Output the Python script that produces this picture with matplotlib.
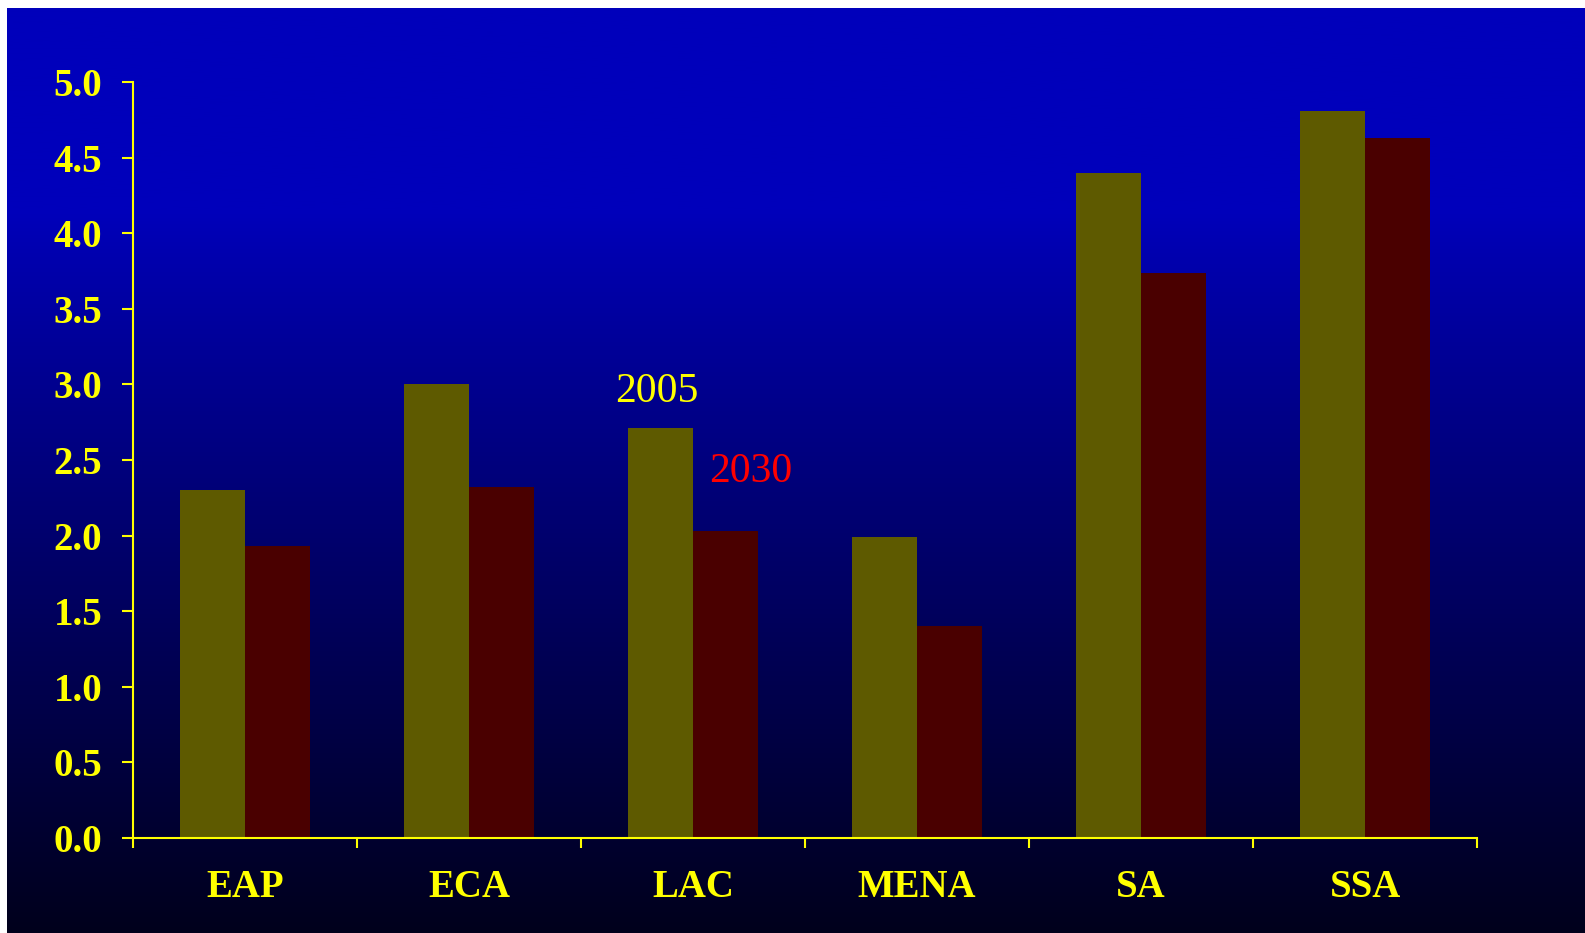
import numpy as np
import matplotlib.pyplot as plt

# --- DATA ---
regions = ['EAP', 'ECA', 'LAC', 'MENA', 'SA', 'SSA']
vals_2005 = [2.30, 3.00, 2.71, 1.99, 4.40, 4.81]
vals_2030 = [1.93, 2.32, 2.03, 1.40, 3.74, 4.63]
yticks = [0.0, 0.5, 1.0, 1.5, 2.0, 2.5, 3.0, 3.5, 4.0, 4.5, 5.0]

# --- STYLE ---
OLIVE = '#5E5A00'
DARKRED = '#4A0000'
YELLOW = '#FFFF00'
SERIF = ['Liberation Serif', 'DejaVu Serif']

W, H = 1585, 933
fig = plt.figure(figsize=(W / 100, H / 100), dpi=100, facecolor='white')

# gradient background (blue at top fading to near black)
bg = fig.add_axes([7 / W, 0, 1 - 7 / W, 1 - 8 / H], zorder=0)
t = np.linspace(0, 1, 400)
s = np.clip((t - 0.22) / 0.78, 0, 1)
blue = 187 - (187 - 28) * s ** 0.9
grad = np.zeros((400, 1, 3))
grad[:, 0, 2] = blue / 255
bg.imshow(grad, aspect='auto', extent=[0, 1, 0, 1], origin='upper')
bg.axis('off')

# main axes
ax = fig.add_axes([133 / W, 1 - 838 / H, (1477 - 133) / W, (838 - 82) / H], zorder=1)
ax.patch.set_alpha(0)

x = np.arange(len(regions))
bw = 0.29
ax.bar(x - bw / 2, vals_2005, bw, color=OLIVE, linewidth=0)
ax.bar(x + bw / 2, vals_2030, bw, color=DARKRED, linewidth=0)

ax.set_xlim(-0.5, len(regions) - 0.5)
ax.set_ylim(0, 5)

for sp in ['top', 'right']:
    ax.spines[sp].set_visible(False)
for sp in ['left', 'bottom']:
    ax.spines[sp].set_color(YELLOW)
    ax.spines[sp].set_linewidth(1.5)

ax.set_yticks(yticks)
ax.set_yticklabels([f'{v:.1f}' for v in yticks])
ax.tick_params(axis='y', colors=YELLOW, length=8, width=1.5, pad=14)

# category boundaries as major ticks, labels on minor ticks
ax.set_xticks(np.arange(-0.5, len(regions), 1.0))
ax.set_xticklabels([])
ax.set_xticks(x, minor=True)
ax.set_xticklabels(regions, minor=True)
ax.tick_params(axis='x', which='major', colors=YELLOW, length=7, width=1.5)
ax.tick_params(axis='x', which='minor', colors=YELLOW, length=0, pad=22)

for lab in ax.get_yticklabels() + ax.get_xticklabels(minor=True):
    lab.set_family(SERIF)
    lab.set_fontweight('bold')
    lab.set_fontsize(28)
    lab.set_color(YELLOW)

ax.text(1.84, 2.95, '2005', color=YELLOW, fontsize=30, family=SERIF,
        ha='center', va='center')
ax.text(2.26, 2.42, '2030', color='#FF0000', fontsize=30, family=SERIF,
        ha='center', va='center')

plt.savefig('out.png', dpi=100, facecolor='white')
